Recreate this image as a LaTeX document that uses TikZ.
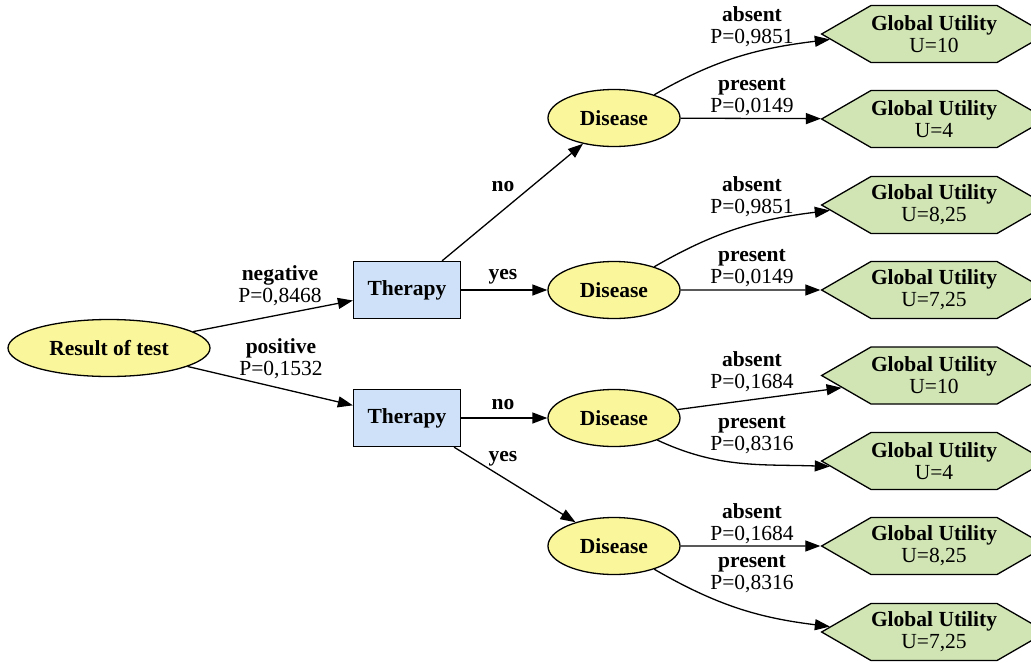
\documentclass[tikz,border=0pt]{standalone}
\usepackage{fontspec}
\setmainfont{Liberation Serif}
\usetikzlibrary{arrows.meta,shapes.geometric,shapes.symbols}
\definecolor{ylw}{HTML}{FAF69B}
\definecolor{blu}{HTML}{CEE1F8}
\definecolor{grn}{HTML}{D1E5B4}
\begin{document}
\begin{tikzpicture}[x=1pt,y=1pt,
  txt/.style={font=\fontsize{21.5}{22}\selectfont, inner sep=0pt, align=center},
  chance/.style={txt, ellipse, draw, fill=ylw, line width=1.3pt, minimum width=132pt, minimum height=57pt, font=\fontsize{21.5}{22}\selectfont\bfseries},
  decision/.style={txt, rectangle, draw, fill=blu, line width=1.3pt, minimum width=107pt, minimum height=57pt, font=\fontsize{21.5}{22}\selectfont\bfseries},
  utility/.style={txt, signal, signal to=west and east, signal pointer angle=60, draw, fill=grn, line width=1.3pt, minimum width=222pt, minimum height=57pt},
  lbl/.style={txt},
  blbl/.style={txt, font=\fontsize{21.5}{22}\selectfont\bfseries},
  edge/.style={-{Triangle[length=15pt,width=11pt]}, line width=1.3pt}
]
\useasboundingbox (0,0) rectangle (1031,-662);
\fill[white] (0,0) rectangle (1031,-662);

% nodes
\node[chance, minimum width=202pt] (res) at (109,-348) {Result of test};
\node[decision] (t1) at (407,-290) {Therapy};
\node[decision] (t2) at (407,-418) {Therapy};
\node[chance] (d1) at (614,-118) {Disease};
\node[chance] (d2) at (614,-290) {Disease};
\node[chance] (d3) at (614,-418) {Disease};
\node[chance] (d4) at (614,-546) {Disease};
\node[utility] (h1) at (934,-34) {\textbf{Global Utility}\\U=10};
\node[utility] (h2) at (934,-119) {\textbf{Global Utility}\\U=4};
\node[utility] (h3) at (934,-205) {\textbf{Global Utility}\\U=8,25};
\node[utility] (h4) at (934,-290) {\textbf{Global Utility}\\U=7,25};
\node[utility] (h5) at (934,-375.5) {\textbf{Global Utility}\\U=10};
\node[utility] (h6) at (934,-461) {\textbf{Global Utility}\\U=4};
\node[utility] (h7) at (934,-546) {\textbf{Global Utility}\\U=8,25};
\node[utility] (h8) at (934,-632) {\textbf{Global Utility}\\U=7,25};

% edges
\draw[edge] (res) -- (t1);
\draw[edge] (res) -- (t2);
\draw[edge] (t1) -- (d1);
\draw[edge] (t1) -- (d2);
\draw[edge] (t2) -- (d3);
\draw[edge] (t2) -- (d4);
\draw[edge] (d1.30) to[out=30,in=187] (h1.183);
\draw[edge] (d1) -- (h2);
\draw[edge] (d2.30) to[out=30,in=187] (h3.183);
\draw[edge] (d2) -- (h4);
\draw[edge] (d3) -- (h5);
\draw[edge] (d3.-27) to[out=-25,in=178] (h6.183);
\draw[edge] (d4) -- (h7);
\draw[edge] (d4.-30) to[out=-30,in=173] (h8.177);

% labels
\node[lbl] (l1) at (280,-285.5) {\textbf{negative}\\P=0,8468};
\node[lbl] (l2) at (281,-358.5) {\textbf{positive}\\P=0,1532};
\node[blbl] (l3) at (503,-187) {no};
\node[blbl] (l4) at (503,-277) {yes};
\node[blbl] (l5) at (503,-405) {no};
\node[blbl] (l6) at (503,-459) {yes};
\node[lbl] (l7) at (752,-27) {\textbf{absent}\\P=0,9851};
\node[lbl] (l8) at (752,-97) {\textbf{present}\\P=0,0149};
\node[lbl] (l9) at (752,-197) {\textbf{absent}\\P=0,9851};
\node[lbl] (l10) at (752,-268) {\textbf{present}\\P=0,0149};
\node[lbl] (l11) at (752,-372) {\textbf{absent}\\P=0,1684};
\node[lbl] (l12) at (752,-435) {\textbf{present}\\P=0,8316};
\node[lbl] (l13) at (752,-524) {\textbf{absent}\\P=0,1684};
\node[lbl] (l14) at (752,-574) {\textbf{present}\\P=0,8316};
\end{tikzpicture}
\end{document}
